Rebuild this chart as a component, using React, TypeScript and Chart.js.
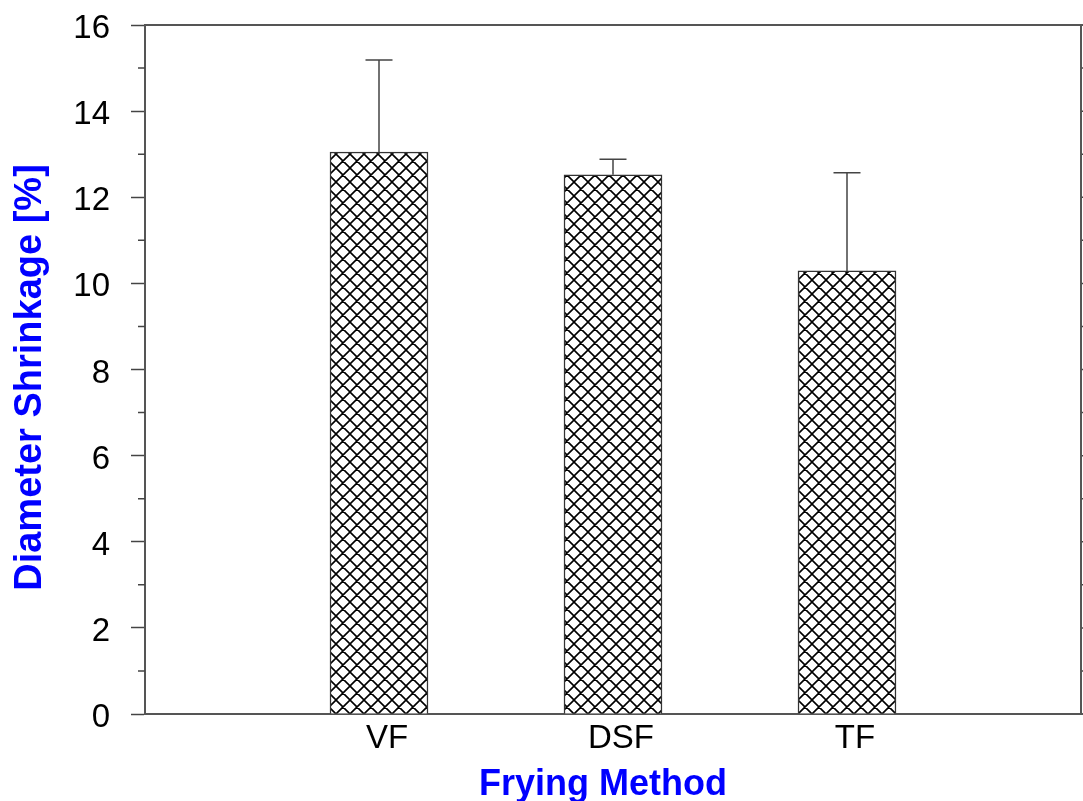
import React, { useEffect, useRef } from "react";
import { Chart, registerables } from "chart.js";

Chart.register(...registerables);

const categories = ["VF", "DSF", "TF"];
const shrinkage = [13.05, 12.52, 10.29];
const errorTop = [15.19, 12.88, 12.57];
const yTicks = [0, 2, 4, 6, 8, 10, 12, 14, 16];
const xTitle = "Frying Method";
const yTitle = "Diameter Shrinkage [%]";

const FONT = "'Liberation Sans', Arial, sans-serif";

function makePattern(): CanvasPattern | string {
  const p = document.createElement("canvas");
  const s = 14;
  p.width = s;
  p.height = s;
  const c = p.getContext("2d");
  if (!c) return "#888";
  c.fillStyle = "#ffffff";
  c.fillRect(0, 0, s, s);
  c.strokeStyle = "#000000";
  c.lineWidth = 1.6;
  c.beginPath();
  for (const d of [-s, 0, s]) {
    c.moveTo(d, 0);
    c.lineTo(d + s, s);
    c.moveTo(d + s, 0);
    c.lineTo(d, s);
  }
  c.stroke();
  const pat = c.createPattern(p, "repeat");
  return pat || "#888";
}

const framePlugin = {
  id: "frame",
  afterDatasetsDraw(chart: any) {
    const ctx = chart.ctx;
    const { left, right, top, bottom } = chart.chartArea;
    const y = chart.scales.y;
    ctx.save();
    // error bars (upper only)
    const meta = chart.getDatasetMeta(0);
    ctx.strokeStyle = "#444";
    ctx.lineWidth = 1.5;
    meta.data.forEach((bar: any, i: number) => {
      const idx = i - 1;
      if (idx < 0 || idx >= errorTop.length) return;
      const x = bar.x;
      const yv = y.getPixelForValue(shrinkage[idx]);
      const ye = y.getPixelForValue(errorTop[idx]);
      ctx.beginPath();
      ctx.moveTo(x, yv);
      ctx.lineTo(x, ye);
      ctx.moveTo(x - 13.5, ye);
      ctx.lineTo(x + 13.5, ye);
      ctx.stroke();
    });
    // minor ticks left + right
    ctx.strokeStyle = "#444";
    ctx.lineWidth = 1.5;
    for (let v = 1; v < 16; v += 2) {
      const py = y.getPixelForValue(v);
      ctx.beginPath();
      ctx.moveTo(left - 7, py);
      ctx.lineTo(left, py);
      ctx.moveTo(right, py);
      ctx.lineTo(right + 4, py);
      ctx.stroke();
    }
    for (const v of yTicks) {
      const py = y.getPixelForValue(v);
      ctx.beginPath();
      ctx.moveTo(right, py);
      ctx.lineTo(right + 4, py);
      ctx.stroke();
    }
    // top and right border
    ctx.strokeStyle = "#555";
    ctx.lineWidth = 2;
    ctx.beginPath();
    ctx.moveTo(left, top);
    ctx.lineTo(right + 2, top);
    ctx.moveTo(right, top);
    ctx.lineTo(right, bottom);
    ctx.moveTo(right, bottom);
    ctx.lineTo(right + 2, bottom);
    ctx.stroke();
    // axis titles
    ctx.fillStyle = "#0000ff";
    ctx.textAlign = "center";
    ctx.textBaseline = "alphabetic";
    ctx.font = `bold 36px ${FONT}`;
    ctx.fillText(xTitle, 603, 795);
    ctx.font = `bold 38px ${FONT}`;
    ctx.translate(41, 377.5);
    ctx.rotate(-Math.PI / 2);
    ctx.fillText(yTitle, 0, 0);
    ctx.restore();
  },
};

export default function App() {
  const ref = useRef<HTMLCanvasElement | null>(null);
  useEffect(() => {
    if (!ref.current) return;
    const labels = ["", ...categories, ""];
    const data = [null, ...shrinkage, null];
    const chart = new Chart(ref.current, {
      type: "bar",
      data: {
        labels,
        datasets: [
          {
            data: data as any,
            backgroundColor: makePattern() as any,
            borderColor: "#333",
            borderWidth: 1.5,
            barThickness: 98,
          },
        ],
      },
      options: {
        responsive: false,
        animation: false,
        devicePixelRatio: 1,
        layout: { padding: { top: 25, right: 2, left: 0, bottom: 0 } },
        plugins: { legend: { display: false }, tooltip: { enabled: false } },
        scales: {
          x: {
            type: "category",
            offset: false,
            grid: { display: false, drawTicks: false },
            border: { color: "#555", width: 2 },
            ticks: {
              color: "#000",
              font: { family: FONT, size: 33 },
              padding: 5,
              labelOffset: 8,
              autoSkip: false,
              maxRotation: 0,
            },
            afterFit(scale: any) {
              scale.height = 87;
              scale.paddingLeft = 0;
              scale.paddingRight = 0;
            },
          },
          y: {
            min: 0,
            max: 16,
            grid: {
              drawOnChartArea: false,
              drawTicks: true,
              tickLength: 14,
              tickColor: "#444",
              tickWidth: 1.5,
            },
            border: { color: "#555", width: 2 },
            ticks: {
              stepSize: 2,
              color: "#000",
              font: { family: FONT, size: 33 },
              padding: 21,
              labelOffset: 4,
            },
            afterFit(scale: any) {
              scale.width = 145;
              scale.paddingTop = 0;
              scale.paddingBottom = 0;
            },
          },
        },
      },
      plugins: [framePlugin],
    });
    return () => chart.destroy();
  }, []);
  return (
    <div style={{ position: "absolute", left: 0, top: 0, width: 1083, height: 801, background: "#fff" }}>
      <canvas ref={ref} width={1083} height={801} style={{ display: "block" }} />
    </div>
  );
}
